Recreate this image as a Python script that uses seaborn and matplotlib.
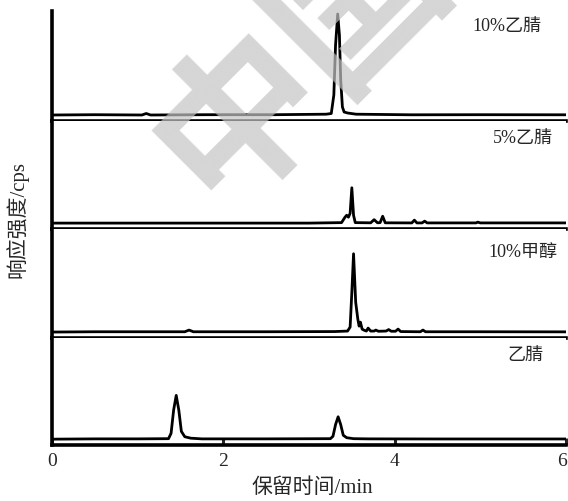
import matplotlib
matplotlib.use("Agg")
import matplotlib.pyplot as plt
import matplotlib.transforms as mtransforms
import seaborn as sns
import pandas as pd

#####################################################################
# Data (retention time in min, response in arbitrary units)
#####################################################################
acn10_t = [0.0, 0.5, 1.05, 1.1, 1.15, 1.8, 2.6, 3.2, 3.26, 3.29, 3.31, 3.335, 3.355, 3.37, 3.39, 3.41, 3.45, 3.55, 4.2, 5.0, 6.0]
acn10_y = [0.0, 0.3, 0.0, 1.5, 0.0, 0.3, 0.3, 0.8, 1.5, 20, 70, 101, 80, 35, 8, 3, 2, 0.8, 0.2, 0.3, 0.2]

acn5_t = [0.0, 1.0, 2.0, 3.0, 3.38, 3.42, 3.44, 3.46, 3.48, 3.50, 3.52, 3.54, 3.72, 3.76, 3.80, 3.83, 3.86, 3.89,
          4.2, 4.23, 4.26, 4.32, 4.35, 4.38, 4.95, 4.97, 5.0, 6.0]
acn5_y = [0.0, 0.0, 0.0, 0.0, 0.5, 6, 8, 6, 10, 36, 8, 0.5, 0.3, 3.5, 0.3, 0.5, 7, 0.3,
          0.2, 3, 0.2, 0.2, 2, 0.2, 0.2, 1, 0.2, 0.2]

meoh10_t = [0.0, 0.5, 1.0, 1.55, 1.6, 1.65, 2.5, 3.3, 3.45, 3.48, 3.50, 3.52, 3.545, 3.57, 3.585, 3.60, 3.62, 3.64,
            3.67, 3.69, 3.72, 3.76, 3.78, 3.81, 3.90, 3.93, 3.96, 4.01, 4.04, 4.07, 4.30, 4.33, 4.36, 5.0, 6.0]
meoh10_y = [0.0, 0.3, 0.3, 0.3, 2, 0.3, 0.3, 0.5, 1, 5, 40, 79, 30, 13, 6, 10, 3, 2,
            1, 4, 1, 1, 2, 0.8, 1, 2.5, 0.8, 0.8, 3, 0.5, 0.3, 2, 0.3, 0.3, 0.2]

acn_t = [0.0, 0.5, 1.0, 1.36, 1.39, 1.42, 1.45, 1.48, 1.51, 1.55, 1.62, 1.75, 2.5, 3.25, 3.28, 3.31, 3.34, 3.37,
         3.40, 3.44, 3.52, 3.7, 4.5, 5.5, 6.0]
acn_y = [0.0, 0.3, 0.3, 0.5, 6, 30, 45, 30, 8, 2.5, 1, 0.3, 0.3, 0.5, 3, 15, 23, 15,
         4, 1.5, 0.5, 0.3, 0.2, 0.2, 0.2]

panel_names = ["10%乙腈", "5%乙腈", "10%甲醇", "乙腈"]
panel_t = [acn10_t, acn5_t, meoh10_t, acn_t]
panel_y = [acn10_y, acn5_y, meoh10_y, acn_y]

x_ticks = [0, 2, 4, 6]

#####################################################################
# Plot
#####################################################################
sns.set_style("white")
FONT = ["Liberation Serif", "Noto Sans CJK SC", "DejaVu Sans"]
plt.rcParams["font.family"] = FONT

fig = plt.figure(figsize=(5.68, 5.01), dpi=100)
gs = fig.add_gridspec(4, 1, height_ratios=[110, 108, 109, 107], hspace=0,
                      left=52/568, right=566/568, top=1-11/501, bottom=1-445/501)

label_pos = [(0.952, 0.85), (0.975, 0.83), (0.983, 0.78), (0.956, 0.83)]

axes = []
for i, (name, t, y) in enumerate(zip(panel_names, panel_t, panel_y)):
    ax = fig.add_subplot(gs[i, 0])
    df = pd.DataFrame({"t": t, "y": y})
    sns.lineplot(data=df, x="t", y="y", ax=ax, color="black", lw=2, estimator=None, sort=False)
    ax.set_xlim(0, 6)
    ax.set_ylim(-6, 104)
    ax.set_xlabel("")
    ax.set_ylabel("")
    ax.set_yticks([])
    for s in ["top", "right"]:
        ax.spines[s].set_visible(False)
    for s in ["left", "bottom"]:
        ax.spines[s].set_linewidth(2.6)
        ax.spines[s].set_color("black")
    ax.text(label_pos[i][0], label_pos[i][1], name, transform=ax.transAxes,
            ha="right", va="center", fontsize=13, family=FONT)
    if i < 3:
        ax.set_xticks([])
    else:
        ax.set_xticks(x_ticks)
        ax.set_xticklabels([str(v) for v in x_ticks], family=FONT, fontsize=14)
        ax.tick_params(axis="x", direction="in", length=5, width=2.2, pad=6, bottom=True)
        # nudge the last label so it stays inside the picture
        last = ax.get_xticklabels()[-1]
        last.set_transform(last.get_transform() + mtransforms.ScaledTranslation(-4/100, 0, fig.dpi_scale_trans))
    axes.append(ax)

fig.text(312/568, 1-488/501, "保留时间/min", ha="center", va="center", fontsize=15, family=FONT)
fig.text(17/568, 1-220/501, "响应强度/cps", ha="center", va="center", rotation=90, fontsize=15, family=FONT)

# watermark
fig.text(300/568, 1-58/501, "中国", ha="center", va="center", rotation=45, rotation_mode="anchor",
         fontsize=120, fontweight="bold", color="#c4c4c4", alpha=0.7, family=["Noto Sans CJK SC"], zorder=10)

fig.savefig("out.png", dpi=100)
plt.close()
